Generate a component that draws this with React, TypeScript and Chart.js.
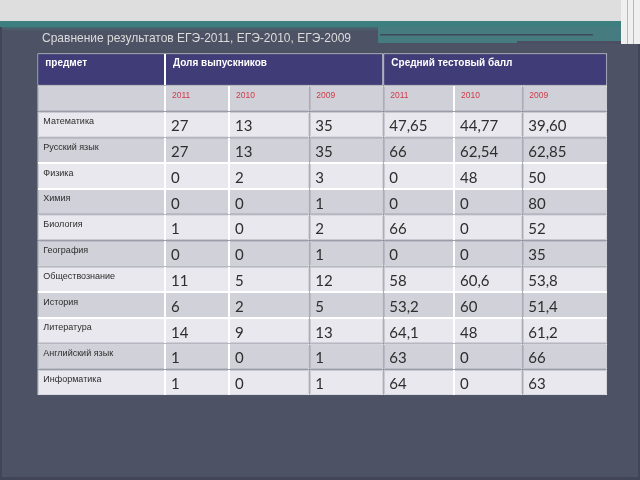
import React, { useEffect, useRef } from 'react';
import { Chart, registerables } from 'chart.js';

Chart.register(...registerables);

// ---------- data ----------
const TITLE = 'Сравнение результатов ЕГЭ-2011, ЕГЭ-2010, ЕГЭ-2009';
const GROUP_HEADERS = ['предмет', 'Доля выпускников', 'Средний тестовый балл'];
const YEARS = ['2011', '2010', '2009'];
const SUBJECTS = [
  'Математика',
  'Русский язык',
  'Физика',
  'Химия',
  'Биология',
  'География',
  'Обществознание',
  'История',
  'Литература',
  'Английский язык',
  'Информатика',
];
const SHARE_2011 = [27, 27, 0, 0, 1, 0, 11, 6, 14, 1, 1];
const SHARE_2010 = [13, 13, 2, 0, 0, 0, 5, 2, 9, 0, 0];
const SHARE_2009 = [35, 35, 3, 1, 2, 1, 12, 5, 13, 1, 1];
const SCORE_2011 = ['47,65', '66', '0', '0', '66', '0', '58', '53,2', '64,1', '63', '64'];
const SCORE_2010 = ['44,77', '62,54', '48', '0', '0', '0', '60,6', '60', '48', '0', '0'];
const SCORE_2009 = ['39,60', '62,85', '50', '80', '52', '35', '53,8', '51,4', '61,2', '66', '63'];

// ---------- layout / style ----------
const COL_WIDTHS = [127.7, 64, 80.3, 74, 70.7, 68.3, 85];
const HEADER_H = 32.4;
const ROW_H = 25.8;
const HEADER_BG = '#3f3c78';
const YEAR_BG = '#cfd0d8';
const LIGHT_BG = '#e8e8ee';
const DARK_BG = '#d0d1d9';

export default function App() {
  const ref = useRef<HTMLCanvasElement>(null);

  useEffect(() => {
    if (!ref.current) return;
    const edges: number[] = [0];
    COL_WIDTHS.forEach((w) => edges.push(edges[edges.length - 1] + w));
    const totalW = edges[edges.length - 1];
    const bodyRows = 1 + SUBJECTS.length;
    const totalH = HEADER_H + bodyRows * ROW_H;
    const rowCenter = (r: number) => HEADER_H + ROW_H * r + ROW_H / 2;
    const rowBg = (r: number) => (r === 0 ? YEAR_BG : (r - 1) % 2 === 0 ? LIGHT_BG : DARK_BG);

    const columns: string[][] = [
      ['', ...SUBJECTS],
      [YEARS[0], ...SHARE_2011.map(String)],
      [YEARS[1], ...SHARE_2010.map(String)],
      [YEARS[2], ...SHARE_2009.map(String)],
      [YEARS[0], ...SCORE_2011],
      [YEARS[1], ...SCORE_2010],
      [YEARS[2], ...SCORE_2009],
    ];

    const common = {
      grouped: false,
      categoryPercentage: 1,
      borderColor: '#ffffff',
      borderWidth: 1,
      borderSkipped: false,
      inflateAmount: 0,
    };

    const texts: string[][] = [];
    const kinds: string[] = [];
    const datasets: any[] = [];

    datasets.push({
      ...common,
      label: 'header',
      barPercentage: HEADER_H / ROW_H,
      backgroundColor: HEADER_BG,
      data: [
        { x: [edges[0], edges[1]], y: HEADER_H / 2 },
        { x: [edges[1], edges[4]], y: HEADER_H / 2 },
        { x: [edges[4], edges[7]], y: HEADER_H / 2 },
      ],
    });
    texts.push(GROUP_HEADERS);
    kinds.push('header');

    columns.forEach((col, c) => {
      datasets.push({
        ...common,
        label: 'col' + c,
        barPercentage: 1,
        backgroundColor: col.map((_, r) => rowBg(r)),
        data: col.map((_, r) => ({ x: [edges[c], edges[c + 1]], y: rowCenter(r) })),
      });
      texts.push(col);
      kinds.push(c === 0 ? 'subject' : 'value');
    });

    const backgroundPlugin = {
      id: 'slideBackground',
      beforeDraw(chart: any) {
        const ctx = chart.ctx as CanvasRenderingContext2D;
        const W = chart.width;
        const H = chart.height;
        ctx.save();
        ctx.fillStyle = '#4e5265';
        ctx.fillRect(0, 0, W, H);
        ctx.fillStyle = '#dedede';
        ctx.fillRect(0, 0, W, 21);
        ctx.fillStyle = '#3d7f7e';
        ctx.fillRect(0, 21, W, 6);
        const g = ctx.createLinearGradient(0, 27, 0, 31);
        g.addColorStop(0, '#456a72');
        g.addColorStop(1, '#4e5265');
        ctx.fillStyle = g;
        ctx.fillRect(0, 27, 378, 4);
        ctx.fillStyle = '#467b7f';
        ctx.fillRect(378, 27, 244, 16);
        ctx.fillStyle = '#3d4a5a';
        ctx.fillRect(380, 34, 213, 1.5);
        ctx.fillStyle = '#4b4f61';
        ctx.fillRect(517, 41, 105, 3);
        ctx.fillStyle = '#f0f0f0';
        ctx.fillRect(621, 0, 19, 44);
        ctx.fillStyle = '#b8b8b8';
        ctx.fillRect(627, 0, 1, 44);
        ctx.fillRect(633, 0, 1, 44);
        ctx.fillStyle = '#424558';
        ctx.fillRect(0, 27, 2, H - 27);
        ctx.fillRect(0, H - 3, W, 3);
        ctx.fillRect(W - 2, 44, 2, H - 44);

        // title
        ctx.font = '13px "Liberation Sans", Arial, sans-serif';
        const tw = ctx.measureText(TITLE).width;
        const target = 309;
        ctx.translate(42, 41.5);
        ctx.scale(target / tw, 1);
        ctx.fillStyle = '#dcdcdc';
        ctx.textAlign = 'left';
        ctx.textBaseline = 'alphabetic';
        ctx.fillText(TITLE, 0, 0);
        ctx.restore();
      },
    };

    const textPlugin = {
      id: 'cellText',
      afterDatasetsDraw(chart: any) {
        const ctx = chart.ctx as CanvasRenderingContext2D;
        ctx.save();
        ctx.textAlign = 'left';
        ctx.textBaseline = 'middle';
        chart.data.datasets.forEach((_: any, di: number) => {
          const meta = chart.getDatasetMeta(di);
          const kind = kinds[di];
          meta.data.forEach((el: any, i: number) => {
            const txt = texts[di][i];
            if (!txt) return;
            const p = el.getProps(['x', 'y', 'base', 'height'], true);
            const left = Math.min(p.x, p.base);
            const top = p.y - p.height / 2;
            if (kind === 'header') {
              ctx.font = 'bold 10px "Liberation Sans", Arial, sans-serif';
              ctx.fillStyle = '#ffffff';
              ctx.fillText(txt, left + 8, top + 10);
            } else if (i === 0) {
              ctx.font = '8.5px "Liberation Sans", Arial, sans-serif';
              ctx.fillStyle = '#d23a48';
              ctx.fillText(txt, left + 7, top + 10.3);
            } else if (kind === 'subject') {
              ctx.font = '9px "Liberation Sans", Arial, sans-serif';
              ctx.fillStyle = '#2e2e2e';
              ctx.fillText(txt, left + 6, top + 10);
            } else {
              ctx.font = '15px Lato, "Liberation Sans", sans-serif';
              ctx.fillStyle = '#2e2e2e';
              ctx.fillText(txt, left + 6, top + 14.8);
            }
          });
        });
        ctx.restore();
      },
    };

    const chart = new Chart(ref.current, {
      type: 'bar',
      data: { datasets },
      options: {
        indexAxis: 'y',
        animation: false,
        responsive: false,
        devicePixelRatio: 1,
        layout: { padding: { left: 37.3, top: 53.3, right: 32.7, bottom: 480 - 53.3 - totalH } },
        scales: {
          x: {
            type: 'linear',
            min: 0,
            max: totalW,
            offset: false,
            stacked: false,
            display: false,
            grid: { display: false },
          },
          y: {
            type: 'linear',
            min: 0,
            max: totalH,
            reverse: true,
            offset: false,
            display: false,
            grid: { display: false, offset: false },
            ticks: { count: 2 },
          },
        },
        plugins: {
          legend: { display: false },
          tooltip: { enabled: false },
          title: { display: false },
        },
      } as any,
      plugins: [backgroundPlugin, textPlugin],
    });
    return () => chart.destroy();
  }, []);

  return (
    <div style={{ position: 'fixed', left: 0, top: 0, width: 640, height: 480 }}>
      <canvas ref={ref} width={640} height={480} style={{ display: 'block' }} />
    </div>
  );
}
